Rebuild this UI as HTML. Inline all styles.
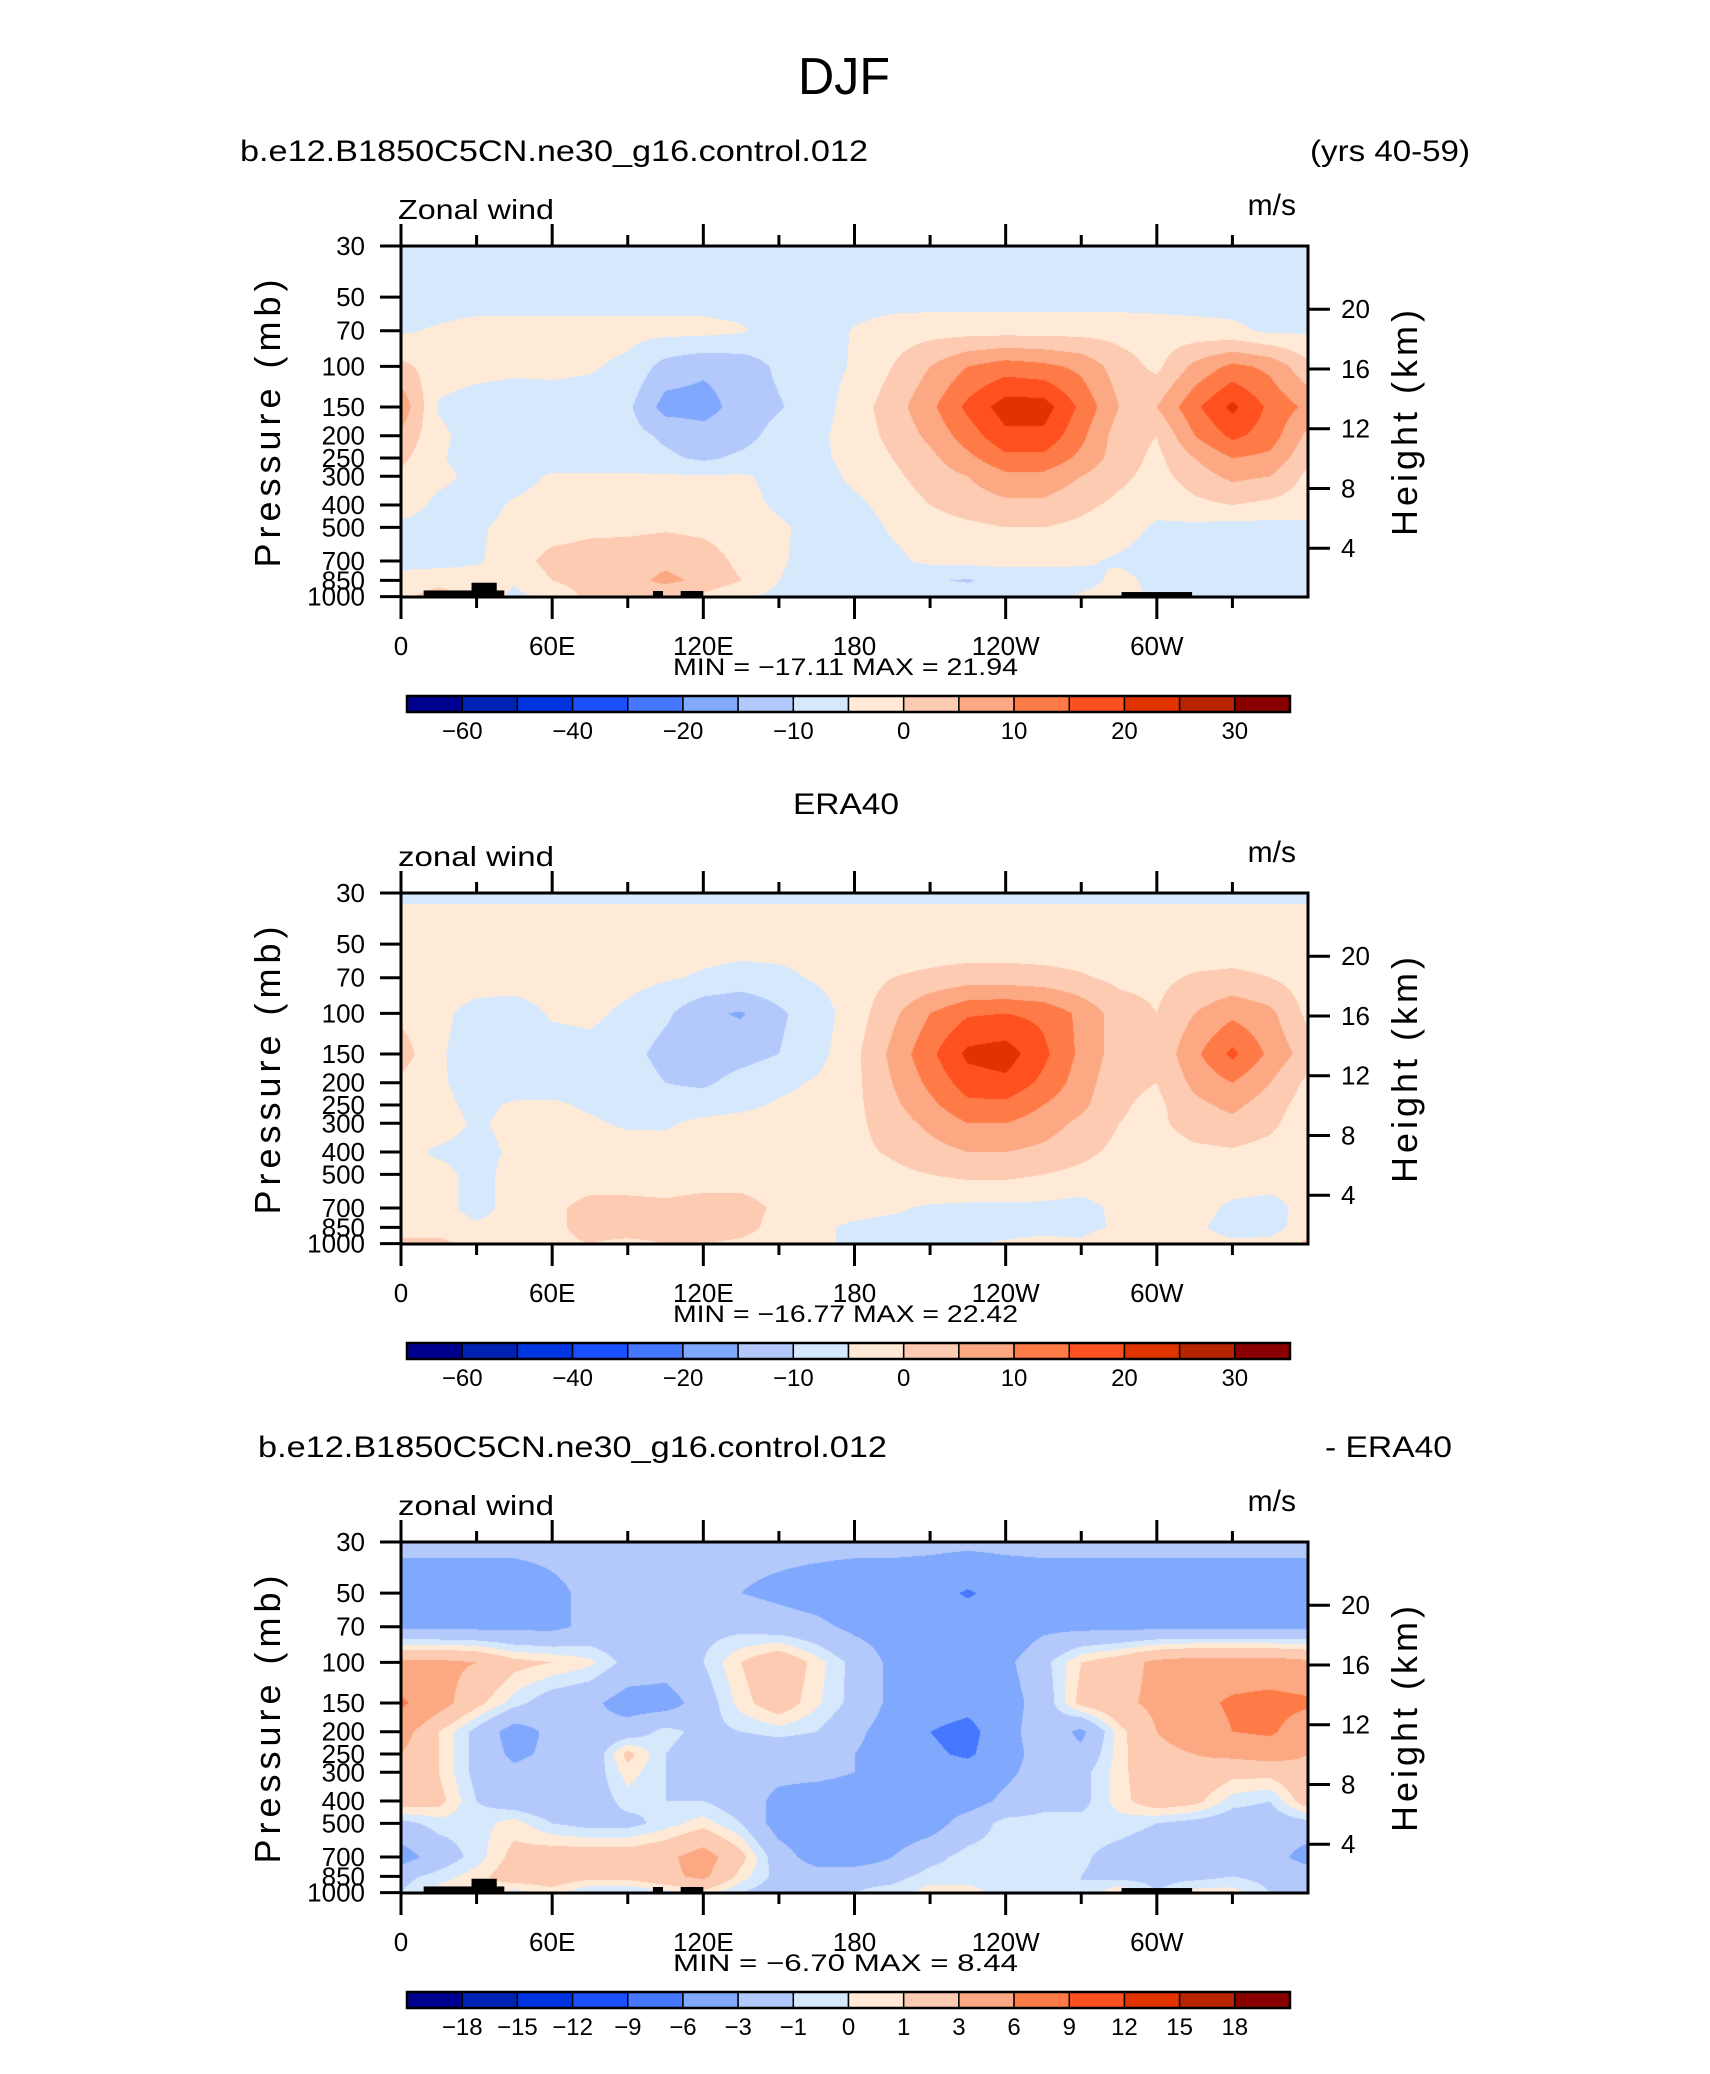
<!DOCTYPE html>
<html><head><meta charset="utf-8">
<style>
html,body{margin:0;padding:0;background:#fff;}
#wrap{position:relative;width:1710px;height:2074px;overflow:hidden;background:#fff;}
canvas{position:absolute;}
svg{position:absolute;left:0;top:0;}
text{font-family:"Liberation Sans",sans-serif;fill:#000;}
</style></head>
<body>
<div id="wrap">
<canvas id="c1"></canvas>
<canvas id="c2"></canvas>
<canvas id="c3"></canvas>
<svg id="svg" width="1710" height="2074" xmlns="http://www.w3.org/2000/svg"></svg>
</div>
<script>
// ---------- data ----------
const levels = [30,50,70,100,150,200,250,300,400,500,700,850,1000];
const lonStep = 15; // grid columns at 0,15,...,360
const modelU = [
[-3,-3,-3,-3,-3,-3,-3,-3,-3,-3,-3,-3,-3,-3,-3,-3,-3,-3,-3,-3,-3,-3,-3,-3,-3],
[-2,-2,-2,-2,-2,-2,-2,-2,-2,-2,-2,-2,-2,-2,-2,-2,-2,-2,-2,-2,-2,-2,-2,-2,-2],
[-0.5,0.5,1.5,1.5,1.5,1.5,1.5,1.5,1.5,0.5,-2,-2,0.3,2,2.5,2.5,2.5,2.5,2.5,2.5,2,1.5,1,-0.8,-0.5],
[5,2,1.5,1,1,0.5,-1,-7,-9,-8,-4,-2,0.5,4,8,12,14,13,11,6,3,9,13,11,5],
[11,-0.5,-2,-2.5,-2,-2,-4,-12,-12,-8,-5.5,-2,2,6,11,17,22,22,15,8,8,15,21,15,11],
[7,1,-2,-4.5,-2.5,-2,-3,-6,-8,-7,-3,-1,2,5,9,14,19,19,13,6,4,12,17,14,7],
[5,0.5,-2,-2,-2,-2,-2,-4,-6,-4,-2,-1,1.5,4,7,11,15,15,11,6,3,8,12,11,5],
[3,1,-1,-1.5,0.5,0.5,0.5,0.5,0.5,0.5,-1,-2,1,3,6,8,11,11,8,5,2.5,6,9,8,3],
[2,-1,-1.5,0.5,1.5,2,2,2,1.5,1,-0.5,-2,-1,1.5,4,6,7,7,5,3,1,3,4,3,2],
[-1,-1.5,-0.5,1,2,3,3,3.5,3,2,0.5,-1,-2,0.5,2,3,4,4,3,1.5,-0.5,-1,-1.5,-1.5,-1],
[-1,-1.5,-0.5,2,5.5,6,6.5,7,6,3,0.5,-1.5,-2,-1,1,1.5,1.5,1,0.5,-0.5,-1.5,-2,-2,-2,-1],
[1,2.5,2,0.5,4,6,6.5,9,7,4,0,-1.5,-2.5,-3,-4.5,-5.5,-3,-2,-1.5,1,-1,-2,-2,-2,-1.5],
[3,6,3,-1,1,5,5,5,3,0.5,-1,-2,-2,-2,-2,-2,-1.5,-1,0.5,2,-1,-1.5,-2,-1,-1]
];
const eraU = [
[-0.4,-0.4,-0.4,-0.4,-0.4,-0.4,-0.4,-0.4,-0.4,-0.4,-0.4,-0.4,-0.4,-0.4,-0.4,-0.4,-0.4,-0.4,-0.4,-0.4,-0.4,-0.4,-0.4,-0.4,-0.4],
[1.5,1.5,1.5,1.5,1.5,1.5,1.5,1.5,1.5,1.5,1.5,1.5,1.5,1.5,1.5,1.5,1.5,1.5,1.5,1.5,1.5,1.5,1.5,1.5,1.5],
[2,2,2,2,2,2,1.5,0.5,-0.5,-1.5,-1,0.5,2,4,5,6,6,5.5,4.5,3,3,4.5,5,4,2],
[3,1,-1.5,-2,0.5,1,-1,-4,-9,-10.5,-6,-2,2,7,12,15.5,16,15,11,6,4,8,11,9,3],
[6,0.5,-2,-2,-2,-1.5,-3,-7,-8,-7,-5,-1.5,3,9,15,21,22,17,11,6,5,11,17,11,6],
[3,0.5,-1.5,-2,-1.5,-1,-2,-5,-6,-3,-1,0.5,3,8,13,18,19,15,10,5,4,9,12,8,3],
[2,1,-1,0.5,0.5,-0.5,-1.5,-2.5,-2,-1,0.5,1,3,7,11,15,15,12,9,4.5,3,7,9,6,2],
[1,1.5,-0.5,1,1,0.5,-0.5,-0.5,1,1.5,2,2,3,6,9,12,12,10,7,4,3,6,7,5,1],
[1,-0.5,-1,0.5,1,1.5,1.5,1.5,1.5,1.5,1.5,1.5,3,4.5,6.5,8,8,7,5,3,2,3,3.5,2.5,1],
[1,1,-1,1,1.5,1.5,1.5,1.5,1.5,1.5,1.5,1.5,2,3,4,5,5,4,3,2,1.5,1.5,1.5,1.5,1],
[1,1,-1,1,3,5.5,5.5,5,6,6,3,1,1,0.5,-0.5,-1,-1,-1,-1.5,1,1,1,-0.5,-1,1],
[2,1.5,0.5,1,3,5.5,6,6,7,6,2,0.5,-0.5,-1,-1,-1.5,-1.5,-1,-1,0.5,1,0.5,-1,-1.5,2],
[5,5.5,2,1.5,3,4,3,4,4,3,1,0.5,-0.5,-1,-1,-0.5,0.5,1,0.5,3,1,1,0.5,1,5]
];
const diffU = [
[-2.3,-2.3,-2.3,-2.3,-2.3,-2.3,-2.3,-2.3,-2.3,-2.3,-2.3,-2.3,-2.3,-2.3,-2.3,-2.3,-2.3,-2.3,-2.3,-2.3,-2.3,-2.3,-2.3,-2.3,-2.3],
[-4.5,-4.5,-4.5,-4.5,-3.5,-2.5,-2.5,-2.5,-2.5,-3,-3.5,-4,-4.5,-4.5,-5,-6.3,-5,-4.5,-4.5,-4.5,-4.5,-4.5,-4.5,-4.5,-4.5],
[-3.5,-3.5,-3.5,-3.5,-3.5,-2.5,-2.5,-2.5,-1.5,-1.5,-2,-2.5,-3.5,-4,-4.5,-4.5,-4.5,-3.5,-3.5,-3.5,-3.5,-3.5,-3.5,-3.5,-3.5],
[3.5,3.5,3,1.5,1,0.3,-1.5,-2,-1,1,2.5,0.5,-1.5,-3.5,-4,-4,-3.5,-1.5,1,2,3.5,4,4,4,3.5],
[6.5,4,1.5,-0.5,-2,-2.5,-4,-4,-2,0.5,2,0.2,-1.5,-3.5,-4.5,-5,-4,-2,1.5,2.5,3.5,5,6.5,7,6.5],
[4,1,-1.5,-4,-2.5,-2.5,-2,-0.5,-1.5,-1,-0.5,-1,-2.5,-4,-6,-7,-4,-1.5,-3.5,0.5,3,4,6,6.5,4],
[3,1,-1.5,-3.5,-2.5,-2.5,1.5,-1,-2,-2.5,-2.5,-2.5,-3,-4,-5.5,-6.5,-4,-2,-2.5,0.5,2.5,3,3.5,4,3],
[2.5,1,-1.5,-2.5,-2,-2,0.5,-1,-2,-2.5,-2.5,-2.5,-3,-3.5,-4.5,-4.5,-3.5,-2,-1.5,0.5,2.5,2.5,1.5,1.5,2.5],
[2,1.5,-1,-2,-2.5,-2,-0.5,-1,-1,-2,-3.5,-4,-4,-3.5,-4,-4,-2.5,-1.5,-1.5,0.5,2,1.5,-0.5,-1,2],
[-1.5,-0.5,-0.5,0.5,-1,-1.5,-1.5,-0.5,0.5,-1,-4,-4.5,-5,-4.5,-4,-2,-0.5,-0.5,-0.5,-0.5,-1,-1.5,-2,-2,-1.5],
[-4,-2,-0.5,1.5,2,2,2,2.5,4,1.5,-2,-4,-4.5,-3,-1.5,-0.5,-0.5,-0.5,-0.8,-1.5,-2,-2.5,-2.5,-2,-4],
[-1.5,-0.5,0.5,2,2,1.5,1.5,2.5,3.5,0.5,-1.5,-2,-1.5,-1.5,-0.5,-0.5,-0.7,-0.8,-1,-1.5,-1.5,-1.5,-1,-1.5,-1.5],
[-1,0.5,1,-0.5,0.5,-1,-1,-0.5,0.5,-1,-2,-1.5,-1,-0.5,0.5,0.5,-0.5,-1,-1,1,-1,0.5,0.5,-1,-1]
];
const windLevels = [-40,-35,-30,-25,-15,-10,-5,0,4,8,12,16,20,25,30];
const windLabels = [["-60",1],["-40",3],["-20",5],["-10",7],["0",9],["10",11],["20",13],["30",15]];
const diffLevels = [-18,-15,-12,-9,-6,-3,-1,0,1,3,6,9,12,15,18];
const diffLabels = [["-18",1],["-15",2],["-12",3],["-9",4],["-6",5],["-3",6],["-1",7],["0",8],["1",9],["3",10],["6",11],["9",12],["12",13],["15",14],["18",15]];
const colors = ["#00008f","#0022b4","#0036e2","#1a4fff","#4677ff","#80a8fc","#b3c9fc","#d6e8fc","#ffead8","#fdcbb1","#fba883","#fe7b48","#ff5020","#e03300","#b82300","#8a0000"];
const topoLon0 = [9,28,100,111,286];
const topoLon1 = [41,38,104,120,314];
const topoP = [940,870,945,945,955];
const xTickLon = [0,60,120,180,240,300];
const xTickLab = ["0","60E","120E","180","120W","60W"];
const pTicks = [30,50,70,100,150,200,250,300,400,500,700,850,1000];
const hTicks = [4,8,12,16,20];

// ---------- layout ----------
const PX = 401, PW = 907, PH = 351, KLOG = 100;
const panelTop = [246, 893, 1542];
const svg = document.getElementById('svg');
const NS = 'http://www.w3.org/2000/svg';
function xOf(lon){ return PX + lon/360*PW; }
function yOfP(top,p){ return top + KLOG*Math.log(p/30); }
function yOfH(top,h){ return top + 362 - 14.94*h; }
function mk(tag, attrs, txt){
  const e = document.createElementNS(NS, tag);
  for (const k in attrs) e.setAttribute(k, attrs[k]);
  if (txt !== undefined) e.textContent = txt;
  svg.appendChild(e);
  return e;
}
function interp(grid, lon, p){
  const lp = Math.log(p);
  let k = 0;
  while (k < levels.length-2 && Math.log(levels[k+1]) < lp) k++;
  const l0 = Math.log(levels[k]), l1 = Math.log(levels[k+1]);
  let fy = (lp-l0)/(l1-l0); fy = Math.max(0, Math.min(1, fy));
  let ci = Math.floor(lon/lonStep); if (ci > grid[0].length-2) ci = grid[0].length-2;
  const fx = (lon - ci*lonStep)/lonStep;
  const a = grid[k][ci]*(1-fx) + grid[k][ci+1]*fx;
  const b = grid[k+1][ci]*(1-fx) + grid[k+1][ci+1]*fx;
  return a*(1-fy) + b*fy;
}
function hex(c){ return [parseInt(c.substr(1,2),16),parseInt(c.substr(3,2),16),parseInt(c.substr(5,2),16)]; }
const rgb = colors.map(hex);
function drawField(id, grid, lev, top){
  const cv = document.getElementById(id);
  cv.width = PW; cv.height = PH;
  cv.style.left = PX+'px'; cv.style.top = top+'px';
  const ctx = cv.getContext('2d');
  const img = ctx.createImageData(PW, PH);
  for (let j=0;j<PH;j++){
    const p = 30*Math.exp((j+0.5)/KLOG);
    for (let i=0;i<PW;i++){
      const lon = (i+0.5)/PW*360;
      const v = interp(grid, lon, p);
      let idx = 0; while (idx < lev.length && v >= lev[idx]) idx++;
      const c = rgb[idx]; const o = (j*PW+i)*4;
      img.data[o]=c[0]; img.data[o+1]=c[1]; img.data[o+2]=c[2]; img.data[o+3]=255;
    }
  }
  ctx.putImageData(img,0,0);
}
function drawAxes(top, label, showTopo, minmax, labs){
  if (showTopo){
    for (let t=0;t<topoLon0.length;t++){
      const x0 = xOf(topoLon0[t]), x1 = xOf(topoLon1[t]);
      const y0 = yOfP(top, topoP[t]);
      const r = mk('rect',{x:x0,y:y0,width:x1-x0,height:top+PH-y0,fill:'#000'});
      
      
    }
  }
  const fr = mk('rect',{x:PX,y:top,width:PW,height:PH,fill:'none',stroke:'#000','stroke-width':3});
  
  
  pTicks.forEach(p=>{
    const y = yOfP(top,p);
    mk('line',{x1:PX-21,x2:PX,y1:y,y2:y,stroke:'#000','stroke-width':3});
    const t = mk('text',{x:365,y:y+9,'text-anchor':'end','font-size':26},String(p));
    
    
  });
  hTicks.forEach(h=>{
    const y = yOfH(top,h);
    mk('line',{x1:PX+PW,x2:PX+PW+22,y1:y,y2:y,stroke:'#000','stroke-width':3});
    const t = mk('text',{x:1341,y:y+9,'font-size':26},String(h));
    
    
  });
  for (let lon=0; lon<360; lon+=30){
    const major = lon%60===0; const L = major?22:11; const x = xOf(lon);
    mk('line',{x1:x,x2:x,y1:top,y2:top-L,stroke:'#000','stroke-width':3});
    mk('line',{x1:x,x2:x,y1:top+PH,y2:top+PH+L,stroke:'#000','stroke-width':3});
  }
  xTickLon.forEach((lon,i)=>{
    const t = mk('text',{x:xOf(lon),y:top+PH+58,'text-anchor':'middle','font-size':26},xTickLab[i]);
    
    
  });
  const yl = mk('text',{x:0,y:0,'text-anchor':'middle','font-size':36,'letter-spacing':5,transform:`translate(280,${top+175}) rotate(-90)`},'Pressure (mb)');
  
  
  const hl = mk('text',{x:0,y:0,'text-anchor':'middle','font-size':36,'letter-spacing':4,transform:`translate(1417,${top+175}) rotate(-90)`},'Height (km)');
  
  
  const vl = mk('text',{x:398,y:top-27,'font-size':28,textLength:156,lengthAdjust:'spacingAndGlyphs'},label);
  
  
  const ul = mk('text',{x:1296,y:top-31,'text-anchor':'end','font-size':30},'m/s');
  
  
  const mm = mk('text',{x:673,y:top+429,'font-size':24,textLength:345,lengthAdjust:'spacingAndGlyphs','xml:space':'preserve'},minmax);
  
  
  const cbx = 407, cbw = 883/16, cby = top+450, cbh = 16;
  colors.forEach((c,i)=>{
    const r = mk('rect',{x:cbx+i*cbw,y:cby,width:cbw,height:cbh,fill:c,stroke:'#000','stroke-width':1.5});
    
    
  });
  mk('rect',{x:cbx,y:cby,width:883,height:cbh,fill:'none',stroke:'#000','stroke-width':2.5});
  labs.forEach(l=>{
    const t = mk('text',{x:cbx+l[1]*cbw,y:cby+43,'text-anchor':'middle','font-size':24},l[0].replace('-','\u2212'));
    
    
  });
}
drawField('c1', modelU, windLevels, panelTop[0]);
drawField('c2', eraU, windLevels, panelTop[1]);
drawField('c3', diffU, diffLevels, panelTop[2]);
drawAxes(panelTop[0], 'Zonal wind', true, 'MIN = \u221217.11   MAX =   21.94', windLabels);
drawAxes(panelTop[1], 'zonal wind', false, 'MIN = \u221216.77   MAX =   22.42', windLabels);
drawAxes(panelTop[2], 'zonal wind', true, 'MIN =   \u22126.70   MAX =     8.44', diffLabels);
let t;
t = mk('text',{x:844,y:94,'text-anchor':'middle','font-size':52,textLength:92,lengthAdjust:'spacingAndGlyphs'},'DJF');
 
t = mk('text',{x:240,y:161,'font-size':30,textLength:628,lengthAdjust:'spacingAndGlyphs'},'b.e12.B1850C5CN.ne30_g16.control.012');
 
t = mk('text',{x:1310,y:161,'font-size':30,textLength:160,lengthAdjust:'spacingAndGlyphs'},'(yrs 40-59)');
 
t = mk('text',{x:846,y:814,'text-anchor':'middle','font-size':30,textLength:106,lengthAdjust:'spacingAndGlyphs'},'ERA40');
 
t = mk('text',{x:258,y:1457,'font-size':30,textLength:629,lengthAdjust:'spacingAndGlyphs'},'b.e12.B1850C5CN.ne30_g16.control.012');
 
t = mk('text',{x:1325,y:1457,'font-size':30,textLength:127,lengthAdjust:'spacingAndGlyphs'},'- ERA40');
 
</script>
</body></html>
